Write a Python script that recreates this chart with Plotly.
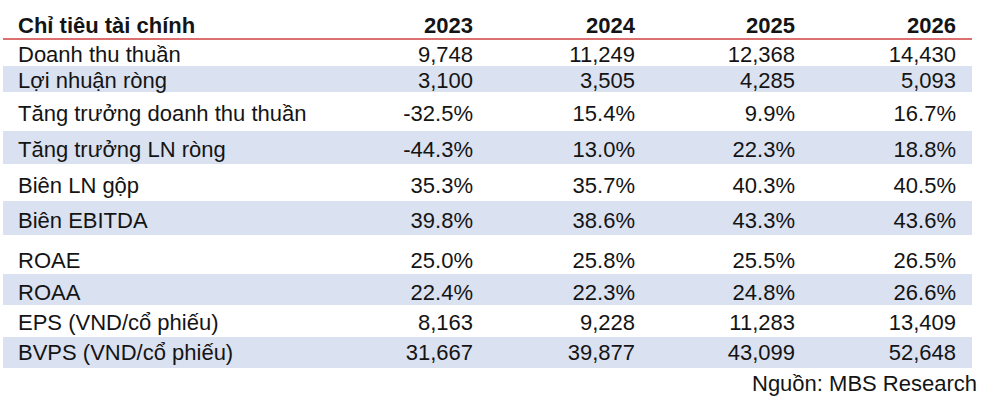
import plotly.graph_objects as go

# ---- data ----
header_label = "Chỉ tiêu tài chính"
years = ["2023", "2024", "2025", "2026"]
metrics = [
    "Doanh thu thuần",
    "Lợi nhuận ròng",
    "Tăng trưởng doanh thu thuần",
    "Tăng trưởng LN ròng",
    "Biên LN gộp",
    "Biên EBITDA",
    "ROAE",
    "ROAA",
    "EPS (VND/cổ phiếu)",
    "BVPS (VND/cổ phiếu)",
]
is_percent = [False, False, True, True, True, True, True, True, False, False]
v2023 = [9748, 3100, -32.5, -44.3, 35.3, 39.8, 25.0, 22.4, 8163, 31667]
v2024 = [11249, 3505, 15.4, 13.0, 35.7, 38.6, 25.8, 22.3, 9228, 39877]
v2025 = [12368, 4285, 9.9, 22.3, 40.3, 43.3, 25.5, 24.8, 11283, 43099]
v2026 = [14430, 5093, 16.7, 18.8, 40.5, 43.6, 26.5, 26.6, 13409, 52648]
source_text = "Nguồn: MBS Research"

# ---- layout / style (not data) ----
row_bounds = [39, 66, 92, 131, 164, 201, 235, 274, 305, 337, 368]
text_y = [56.3, 82.7, 115.5, 151.7, 187, 222.5, 262.5, 294, 324, 354]
header_y = 27.5
source_y = 385
label_x = 18
col_right = [473, 635, 795, 956]
source_right = 977
band_x = (3, 972)
band_color = "#dae1f0"
line_color = "#d0413e"
text_color = "#141414"
FONT = "Liberation Sans, Arial, sans-serif"
FS = 22


def fmt(v, pct):
    return f"{v:.1f}%" if pct else f"{v:,.0f}"


fig = go.Figure()

# banded rows
for i in range(len(metrics)):
    if i % 2 == 1:
        fig.add_shape(type="rect", xref="x", yref="y",
                      x0=band_x[0], x1=band_x[1],
                      y0=row_bounds[i], y1=row_bounds[i + 1],
                      fillcolor=band_color, line_width=0, layer="below")

# header rule
fig.add_shape(type="line", xref="x", yref="y", x0=band_x[0], x1=band_x[1],
              y0=row_bounds[0], y1=row_bounds[0],
              line=dict(color=line_color, width=1.6))

tf = dict(family=FONT, size=FS, color=text_color)

# header
fig.add_trace(go.Scatter(
    x=[label_x], y=[header_y], mode="text", text=[f"<b>{header_label}</b>"],
    textposition="middle right", textfont=tf,
    hoverinfo="skip", showlegend=False))
fig.add_trace(go.Scatter(
    x=col_right, y=[header_y] * len(years), mode="text",
    text=[f"<b>{y}</b>" for y in years], textposition="middle left",
    textfont=tf, hoverinfo="skip", showlegend=False))

# row labels
fig.add_trace(go.Scatter(
    x=[label_x] * len(metrics), y=text_y, mode="text", text=metrics,
    textposition="middle right", textfont=tf,
    hoverinfo="skip", showlegend=False))

# values
for xr, vals in zip(col_right, [v2023, v2024, v2025, v2026]):
    fig.add_trace(go.Scatter(
        x=[xr] * len(vals), y=text_y, mode="text",
        text=[fmt(v, p) for v, p in zip(vals, is_percent)],
        textposition="middle left", textfont=tf,
        hoverinfo="skip", showlegend=False))

# source
fig.add_trace(go.Scatter(
    x=[source_right], y=[source_y], mode="text", text=[source_text],
    textposition="middle left", textfont=tf,
    hoverinfo="skip", showlegend=False))

fig.update_layout(
    width=1000, height=402,
    margin=dict(l=0, r=0, t=0, b=0),
    paper_bgcolor="white", plot_bgcolor="white",
    xaxis=dict(range=[0, 1000], visible=False, fixedrange=True),
    yaxis=dict(range=[402, 0], visible=False, fixedrange=True),
)

fig.write_html(
    "out.html",
    config={"displayModeBar": False},
    post_script="document.body.style.margin='0';document.body.style.overflow='hidden';",
)
